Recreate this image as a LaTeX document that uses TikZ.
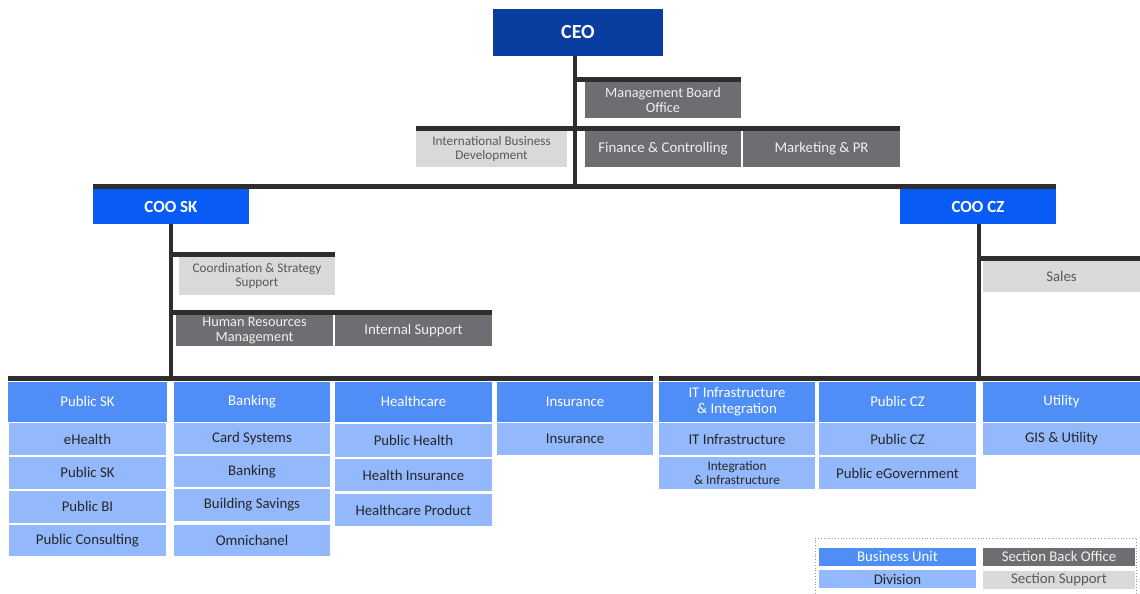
\documentclass[tikz,border=0pt]{standalone}
\usepackage{fontspec}
\setmainfont{Carlito}
\definecolor{ceoblue}{RGB}{10,61,160}
\definecolor{cooblue}{RGB}{8,91,245}
\definecolor{bublue}{RGB}{79,141,247}
\definecolor{divblue}{RGB}{147,185,252}
\definecolor{sbogray}{RGB}{109,110,113}
\definecolor{ssgray}{RGB}{217,217,217}
\definecolor{linecol}{RGB}{46,46,46}
\definecolor{divtext}{RGB}{38,38,38}
\definecolor{sstext}{RGB}{89,89,89}
\newcommand\bx[7]{\node[#6, minimum width={(#4-#2)*1pt}, minimum height={(#5-#3)*1pt}] (#1) at ({(#2+#4)/2},{(#3+#5)/2}) {#7};}
\begin{document}
\begin{tikzpicture}[x=1pt,y=-1pt,
  box/.style={inner sep=0pt, outer sep=0pt, align=center, font=\fontsize{14.8}{15.5}\selectfont},
  ceobox/.style={box, fill=ceoblue, text=white, font=\bfseries\fontsize{20}{22}\selectfont},
  coobox/.style={box, fill=cooblue, text=white, font=\bfseries\fontsize{17}{19}\selectfont},
  bubox/.style={box, fill=bublue, text=white},
  divbox/.style={box, fill=divblue, text=divtext},
  sbobox/.style={box, fill=sbogray, text=white!94!black},
  ssbox/.style={box, fill=ssgray, text=sstext},
  smalltext/.style={font=\fontsize{13.2}{14}\selectfont},
  tighttext/.style={font=\fontsize{14.3}{15}\selectfont},
  hbar/.style={draw=linecol, line width=5pt},
  vbar/.style={draw=linecol, line width=4.3pt},
  legframe/.style={draw=gray!80, dotted, line width=0.8pt, inner sep=0pt, outer sep=0pt}
]
\useasboundingbox (0,0) rectangle (1140,594);
\clip (0,0) rectangle (1140,594);

% top level
\bx{ceo}{493}{9}{663}{56}{ceobox}{CEO}
\bx{mbo}{585}{82}{741}{118}{sbobox,tighttext}{Management Board\\Office}
\bx{ibd}{416}{131}{567}{167}{ssbox,smalltext}{International Business\\Development}
\bx{fc}{585}{131}{741}{167}{sbobox}{Finance \& Controlling}
\bx{mpr}{743}{131}{900}{167}{sbobox}{Marketing \& PR}
\bx{cooSK}{93}{189}{249}{224}{coobox}{COO SK}
\bx{cooCZ}{900}{189}{1056}{224}{coobox}{COO CZ}
\bx{css}{179}{257}{335}{295}{ssbox,smalltext}{Coordination \& Strategy\\Support}
\bx{hrm}{176}{315}{333}{346}{sbobox,tighttext}{Human Resources\\Management}
\bx{isup}{335}{315}{492}{346}{sbobox}{Internal Support}
\bx{sales}{983}{261}{1140}{292}{ssbox}{Sales}

% business units
\bx{pubsk}{8}{381.5}{167}{422}{bubox}{Public SK}
\bx{bank}{174}{381.5}{330}{422}{bubox}{Banking}
\bx{hc}{335}{381.5}{492}{422}{bubox}{Healthcare}
\bx{ins}{497}{381.5}{653}{422}{bubox}{Insurance}
\bx{itii}{659}{381.5}{815}{422}{bubox}{IT Infrastructure\\\& Integration}
\bx{pubcz}{819}{381.5}{976}{422}{bubox}{Public CZ}
\bx{util}{983}{381.5}{1140}{422}{bubox}{Utility}

% divisions
\bx{ehealth}{9}{423}{166}{455}{divbox}{eHealth}
\bx{pubskd}{9}{456.5}{166}{488.5}{divbox}{Public SK}
\bx{pubbi}{9}{490.5}{166}{522.5}{divbox}{Public BI}
\bx{pubcons}{9}{524.5}{166}{556}{divbox}{Public Consulting}
\bx{cards}{174}{423}{330}{454}{divbox}{Card Systems}
\bx{bankd}{174}{455.5}{330}{487}{divbox}{Banking}
\bx{bsav}{174}{489}{330}{521}{divbox}{Building Savings}
\bx{omni}{174}{524.5}{330}{556}{divbox}{Omnichanel}
\bx{ph}{335}{424}{492}{457}{divbox}{Public Health}
\bx{hins}{335}{459}{492}{491}{divbox}{Health Insurance}
\bx{hcp}{335}{494}{492}{526}{divbox}{Healthcare Product}
\bx{insd}{497}{423}{653}{455}{divbox}{Insurance}
\bx{itinf}{659}{423}{815}{455}{divbox}{IT Infrastructure}
\bx{intinf}{659}{457}{815}{489}{divbox,smalltext}{Integration\\\& Infrastructure}
\bx{pubczd}{819}{423}{976}{455}{divbox}{Public CZ}
\bx{egov}{819}{457}{976}{489}{divbox}{Public eGovernment}
\bx{gis}{983}{423}{1140}{455}{divbox}{GIS \& Utility}

% legend
\bx{leg}{815}{538}{1136}{600}{legframe}{}
\bx{legbu}{819}{548}{976}{565.5}{bubox}{Business Unit}
\bx{legdiv}{819}{570}{976}{588}{divbox}{Division}
\bx{legsbo}{983}{548}{1135}{565.5}{sbobox}{Section Back Office}
\bx{legss}{983}{571}{1135}{589}{ssbox}{Section Support}

% junction coordinates
\coordinate (ceoBot) at (575,186.5);
\coordinate (jMBO) at (575,79.5);
\coordinate (jFC) at (575,128.5);
\coordinate (skBot) at (171,378.5);
\coordinate (jCSS) at (171,254.5);
\coordinate (jHR) at (171,312.5);
\coordinate (czBot) at (979,378.5);
\coordinate (jSales) at (979,258.5);

% connectors
\draw[hbar] (jMBO) -- (jMBO -| mbo.east);
\draw[hbar] (jFC -| ibd.west) -- (jFC -| mpr.east);
\draw[hbar] (ceoBot -| cooSK.west) -- (ceoBot -| cooCZ.east);
\draw[vbar] (ceo.south -| ceoBot) -- (ceoBot);

\draw[hbar] (jCSS) -- (jCSS -| css.east);
\draw[hbar] (jHR) -- (jHR -| isup.east);
\draw[hbar] (skBot -| pubsk.west) -- (skBot -| ins.east);
\draw[vbar] (cooSK.south -| skBot) -- (skBot);

\draw[hbar] (jSales) -- (jSales -| sales.east);
\draw[hbar] (czBot -| itii.west) -- (czBot -| util.east);
\draw[vbar] (cooCZ.south -| czBot) -- (czBot);
\end{tikzpicture}
\end{document}
